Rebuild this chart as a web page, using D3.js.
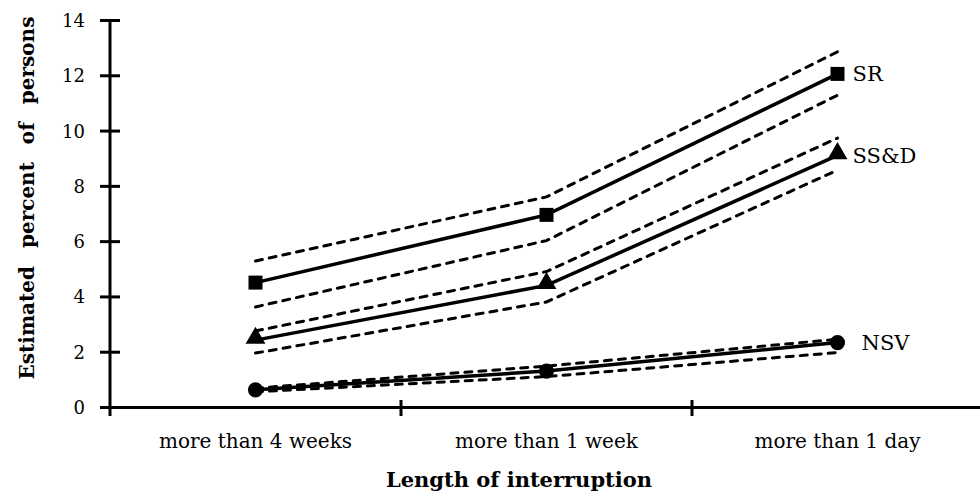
<!DOCTYPE html>
<html>
<head>
<meta charset="utf-8">
<script src="https://cdn.jsdelivr.net/npm/d3@7"></script>
<style>
  html, body { margin: 0; padding: 0; background: #fff; }
  svg { display: block; }
  text { font-family: 'DejaVu Serif', 'Liberation Serif', serif; fill: #000; }
</style>
</head>
<body>
<div id="chart"></div>
<script>
const categories = ['more than 4 weeks', 'more than 1 week', 'more than 1 day'];
const yTicks = [0, 2, 4, 6, 8, 10, 12, 14];

// estimate + dashed band (upper / lower) per series
const srValues = [4.5, 6.95, 12.05];
const srUpper = [5.28, 7.6, 12.85];
const srLower = [3.62, 6.02, 11.28];

const ssdValues = [2.42, 4.4, 9.1];
const ssdUpper = [2.75, 4.9, 9.73];
const ssdLower = [1.95, 3.8, 8.57];

const nsvValues = [0.62, 1.3, 2.33];
const nsvUpper = [0.68, 1.48, 2.45];
const nsvLower = [0.55, 1.1, 1.97];

const seriesNames = ['SR', 'SS&D', 'NSV'];
const seriesMarkers = ['square', 'triangle', 'circle'];

const width = 980, height = 498;
const margin = { top: 20, right: -3, bottom: 91, left: 110 };

const svg = d3.select('#chart').append('svg').attr('width', width).attr('height', height);

const xScale = d3.scaleBand().domain(categories).range([margin.left, width - margin.right]);
const yScale = d3.scaleLinear().domain([0, 14]).range([height - margin.bottom, margin.top]);
const xMid = (c) => xScale(c) + xScale.bandwidth() / 2;

// y axis, ticks crossing the line
const yAxis = d3.axisLeft(yScale).tickValues(yTicks).tickSize(10).tickSizeOuter(0).tickPadding(15);
const yG = svg.append('g').attr('transform', `translate(${margin.left},0)`).call(yAxis);
yG.select('.domain').remove();
yG.selectAll('.tick line').attr('x1', 10).attr('stroke', '#000').attr('stroke-width', 3);
yG.selectAll('.tick text').style('font-size', '18px').attr('dy', '0.36em');
yG.append('line')
  .attr('x1', 0).attr('x2', 0)
  .attr('y1', yScale(14)).attr('y2', yScale(0) + 9)
  .attr('stroke', '#000').attr('stroke-width', 3);

// x axis
const xAxis = d3.axisBottom(xScale).tickSize(0).tickSizeOuter(0).tickPadding(27);
const xG = svg.append('g').attr('transform', `translate(0,${yScale(0)})`).call(xAxis);
xG.select('.domain').attr('stroke', '#000').attr('stroke-width', 3);
xG.selectAll('.tick text').style('font-size', '20px');
xG.selectAll('.bound')
  .data(categories.slice(0, 2))
  .enter().append('line')
  .attr('x1', (d) => xScale(d) + xScale.bandwidth())
  .attr('x2', (d) => xScale(d) + xScale.bandwidth())
  .attr('y1', -7).attr('y2', 9)
  .attr('stroke', '#000').attr('stroke-width', 3);

// axis titles
svg.append('text')
  .attr('x', 519).attr('y', 487)
  .attr('text-anchor', 'middle')
  .style('font-size', '21px').style('font-weight', 'bold')
  .text('Length of interruption');

svg.append('text')
  .attr('transform', 'translate(34,198) rotate(-90)')
  .attr('text-anchor', 'middle')
  .style('font-size', '20px').style('font-weight', 'bold').style('word-spacing', '11px')
  .text('Estimated percent of persons');

// series
const series = [
  { name: seriesNames[0], marker: seriesMarkers[0], values: srValues, upper: srUpper, lower: srLower },
  { name: seriesNames[1], marker: seriesMarkers[1], values: ssdValues, upper: ssdUpper, lower: ssdLower },
  { name: seriesNames[2], marker: seriesMarkers[2], values: nsvValues, upper: nsvUpper, lower: nsvLower }
];

const line = d3.line().x((d, i) => xMid(categories[i])).y((d) => yScale(d));

const plot = svg.append('g');

series.forEach((s) => {
  [s.upper, s.lower].forEach((band) => {
    plot.append('path')
      .datum(band)
      .attr('d', line)
      .attr('fill', 'none')
      .attr('stroke', '#000')
      .attr('stroke-width', 3)
      .attr('stroke-linecap', 'round')
      .attr('stroke-dasharray', '7,7');
  });
  plot.append('path')
    .datum(s.values)
    .attr('d', line)
    .attr('fill', 'none')
    .attr('stroke', '#000')
    .attr('stroke-width', 3.5);
});

const symbolFor = { square: d3.symbolSquare, triangle: d3.symbolTriangle, circle: d3.symbolCircle };
const sizeFor = { square: 196, triangle: 170, circle: 180 };

series.forEach((s) => {
  plot.selectAll(null)
    .data(s.values)
    .enter().append('path')
    .attr('d', d3.symbol().type(symbolFor[s.marker]).size(sizeFor[s.marker]))
    .attr('transform', (d, i) => `translate(${xMid(categories[i])},${yScale(d) - (s.marker === 'triangle' ? 2 : 0)})`)
    .attr('fill', '#000');

  const last = s.values.length - 1;
  svg.append('text')
    .attr('x', xMid(categories[last]) + (s.marker === 'circle' ? 24 : 15))
    .attr('y', yScale(s.values[last]))
    .attr('dy', '0.35em')
    .style('font-size', '21px')
    .text(s.name);
});
</script>
</body>
</html>
